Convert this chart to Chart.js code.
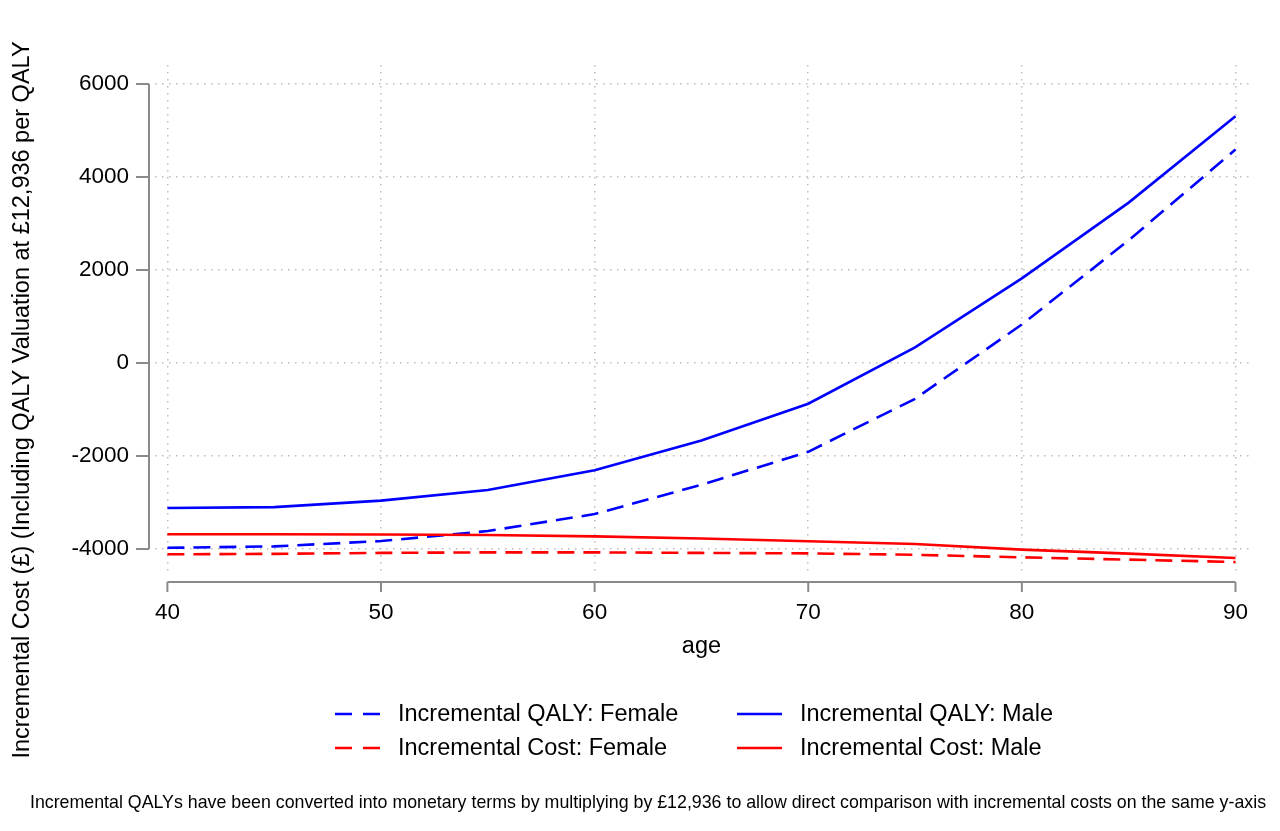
<!DOCTYPE html>
<html>
<head>
<meta charset="utf-8">
<script src="https://cdn.jsdelivr.net/npm/chart.js@4.4.1/dist/chart.umd.min.js"></script>
<style>
  html, body { margin: 0; padding: 0; background: #ffffff; }
  #wrap { width: 1280px; height: 831px; position: relative; }
</style>
</head>
<body>
<div id="wrap"><canvas id="c" width="1280" height="831"></canvas></div>
<script>
// ---- data ----
const ages = [40, 45, 50, 55, 60, 65, 70, 75, 80, 85, 90];
const qalyFemale = [-3975, -3945, -3830, -3615, -3250, -2620, -1910, -770, 830, 2640, 4590];
const qalyMale   = [-3120, -3100, -2960, -2730, -2305, -1665, -875, 335, 1820, 3450, 5310];
const costFemale = [-4115, -4105, -4085, -4073, -4073, -4085, -4095, -4125, -4180, -4230, -4280];
const costMale   = [-3685, -3685, -3688, -3700, -3730, -3775, -3835, -3893, -4015, -4100, -4195];

const xTicks = [40, 50, 60, 70, 80, 90];
const yTicks = [-4000, -2000, 0, 2000, 4000, 6000];

const seriesNames = [
  'Incremental QALY: Female',
  'Incremental QALY: Male',
  'Incremental Cost: Female',
  'Incremental Cost: Male'
];
const yTitle = 'Incremental Cost (£) (Including QALY Valuation at £12,936 per QALY';
const xTitle = 'age';
const footnote = 'Incremental QALYs have been converted into monetary terms by multiplying by £12,936 to allow direct comparison with incremental costs on the same y-axis';

const BLUE = '#0000ff';
const RED = '#ff0000';
const DASH = [17, 9];
const FONT = '"Liberation Sans", Arial, Helvetica, sans-serif';

function pts(vals) { return ages.map((a, i) => ({ x: a, y: vals[i] })); }

const datasets = [
  { label: seriesNames[2], data: pts(costFemale), borderColor: RED,  borderDash: DASH },
  { label: seriesNames[3], data: pts(costMale),   borderColor: RED,  borderDash: [] },
  { label: seriesNames[0], data: pts(qalyFemale), borderColor: BLUE, borderDash: DASH },
  { label: seriesNames[1], data: pts(qalyMale),   borderColor: BLUE, borderDash: [] }
].map(d => Object.assign(d, { borderWidth: 2.6, pointRadius: 0, tension: 0, fill: false }));

const decor = {
  id: 'decor',
  afterDraw(chart) {
    const ctx = chart.ctx;
    const xs = chart.scales.x, ys = chart.scales.y;
    ctx.save();
    // axis lines (offset Stata style)
    ctx.strokeStyle = '#8a8a8a';
    ctx.lineWidth = 2;
    ctx.setLineDash([]);
    const axX = 149;
    ctx.beginPath();
    ctx.moveTo(axX, ys.getPixelForValue(yTicks[yTicks.length - 1]));
    ctx.lineTo(axX, ys.getPixelForValue(yTicks[0]));
    yTicks.forEach(v => {
      const p = ys.getPixelForValue(v);
      ctx.moveTo(axX, p); ctx.lineTo(axX - 13, p);
    });
    const axY = 582;
    ctx.moveTo(xs.getPixelForValue(xTicks[0]), axY);
    ctx.lineTo(xs.getPixelForValue(xTicks[xTicks.length - 1]), axY);
    xTicks.forEach(v => {
      const p = xs.getPixelForValue(v);
      ctx.moveTo(p, axY); ctx.lineTo(p, axY + 10);
    });
    ctx.stroke();

    // titles
    ctx.fillStyle = '#000';
    ctx.font = '23.5px ' + FONT;
    ctx.textAlign = 'center';
    ctx.textBaseline = 'middle';
    ctx.fillText(xTitle, (xs.getPixelForValue(40) + xs.getPixelForValue(90)) / 2, 647);
    ctx.save();
    ctx.translate(23, 400);
    ctx.rotate(-Math.PI / 2);
    ctx.fillText(yTitle, 0, 0);
    ctx.restore();

    // legend
    const items = [
      { name: seriesNames[0], color: BLUE, dash: DASH, x: 335, y: 714 },
      { name: seriesNames[1], color: BLUE, dash: [], x: 737, y: 714 },
      { name: seriesNames[2], color: RED, dash: DASH, x: 335, y: 748 },
      { name: seriesNames[3], color: RED, dash: [], x: 737, y: 748 }
    ];
    items.forEach(it => {
      ctx.strokeStyle = it.color;
      ctx.lineWidth = 2.6;
      ctx.setLineDash(it.dash.length ? [17, 11] : []);
      ctx.beginPath();
      ctx.moveTo(it.x, it.y); ctx.lineTo(it.x + 45, it.y);
      ctx.stroke();
      ctx.fillStyle = '#000';
      ctx.textAlign = 'left';
      ctx.font = '23.5px ' + FONT;
      ctx.fillText(it.name, it.x + 63, it.y + 1);
    });

    // footnote
    ctx.setLineDash([]);
    ctx.font = '17.8px ' + FONT;
    ctx.textAlign = 'center';
    ctx.fillText(footnote, 648, 803);
    ctx.restore();
  }
};

new Chart(document.getElementById('c'), {
  type: 'line',
  data: { datasets },
  options: {
    responsive: false,
    animation: false,
    devicePixelRatio: 1,
    layout: { padding: { left: 0, right: 27, top: 65, bottom: 0 } },
    plugins: { legend: { display: false }, tooltip: { enabled: false } },
    scales: {
      x: {
        type: 'linear',
        min: 39.42,
        max: 90.82,
        afterBuildTicks(s) { s.ticks = xTicks.map(v => ({ value: v })); },
        afterFit(s) { s.height = 256; s.paddingLeft = 0; s.paddingRight = 0; },
        grid: { color: '#bdbdbd', lineWidth: 1.5, drawTicks: false },
        border: { display: false, dash: [1.5, 5.5] },
        ticks: { color: '#000', font: { size: 22.5, family: FONT }, padding: 24, maxRotation: 0,
                 callback: v => String(v) }
      },
      y: {
        type: 'linear',
        min: -4560,
        max: 6410,
        afterBuildTicks(s) { s.ticks = yTicks.map(v => ({ value: v })); },
        afterFit(s) { s.width = 155; s.paddingTop = 0; s.paddingBottom = 0; },
        grid: { color: '#bdbdbd', lineWidth: 1.5, drawTicks: false },
        border: { display: false, dash: [1.5, 5.5] },
        ticks: { color: '#000', font: { size: 22.5, family: FONT }, padding: 26,
                 callback: v => String(v) }
      }
    }
  },
  plugins: [decor]
});
</script>
</body>
</html>
